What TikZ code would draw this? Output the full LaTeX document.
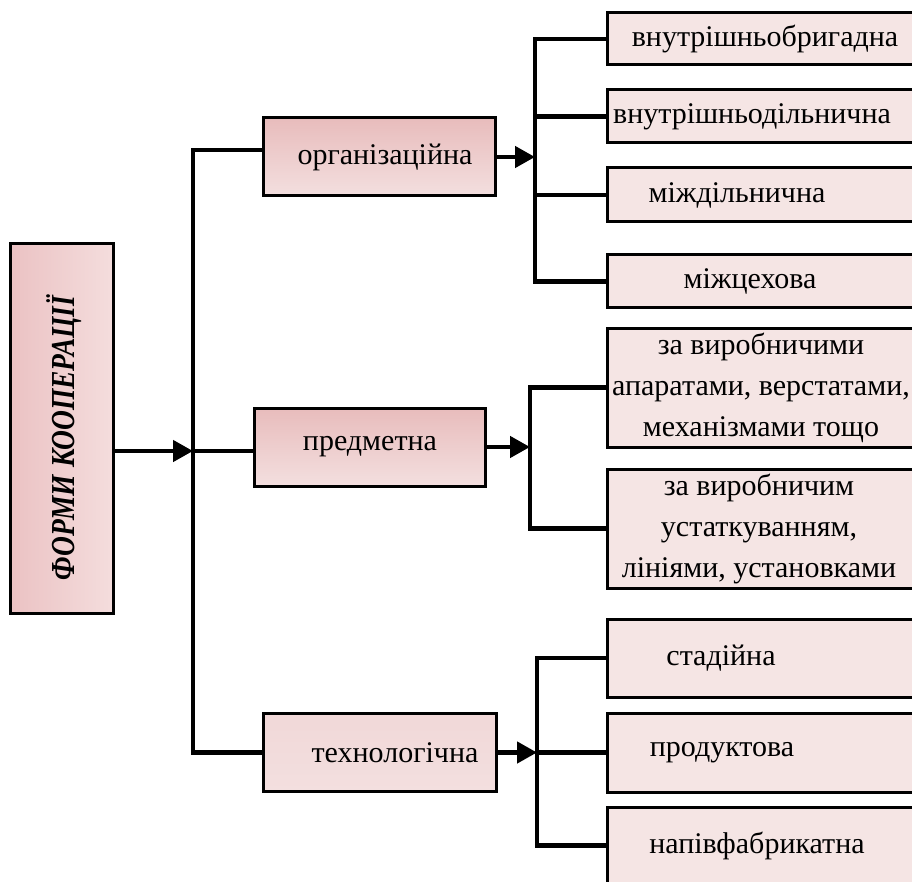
\documentclass[tikz,border=0pt]{standalone}
\usepackage{fontspec}
\setmainfont{Liberation Serif}
\usetikzlibrary{arrows.meta}
\definecolor{rfill}{HTML}{F5E5E4}
\definecolor{midtop}{HTML}{E8BCBC}
\definecolor{midbot}{HTML}{F3DFDF}
\definecolor{leftl}{HTML}{EBC2C3}
\definecolor{leftr}{HTML}{F4DDDD}
\tikzset{
  boxline/.style={draw=black, line width=3pt, inner sep=0pt},
  mainbox/.style={boxline, left color=leftl, right color=leftr, minimum width=103pt, minimum height=369pt},
  midbox/.style={boxline, top color=midtop, bottom color=midbot, minimum height=78pt},
  rbox/.style={boxline, fill=rfill, minimum width=353pt},
  conn/.style={line width=4.5pt, line cap=rect},
  arr/.style={line width=4.5pt, -{Triangle[length=20pt,width=21pt]}},
  txt/.style={font=\fontsize{30}{41}\selectfont, inner sep=0pt, align=center},
}
\begin{document}
\begin{tikzpicture}[x=1pt,y=-1pt]
\useasboundingbox (0,0) rectangle (912,882);
\clip (0,0) rectangle (912,882);

% main box
\node[mainbox] (L) at (61.5,428.5) {};
\node[rotate=90, inner sep=0pt, font=\fontsize{27.5}{30}\selectfont\bfseries\itshape] (Lt) at (64,438) {\scalebox{1}[1.22]{ФОРМИ КООПЕРАЦІЇ}};

% middle boxes
\node[midbox, minimum width=232pt] (org) at (379,157) {};
\node[midbox, minimum width=231pt] (pred) at (369.5,447) {};
\node[midbox, minimum width=233pt, top color=midbot!80!midtop, bottom color=midbot] (tech) at (379.5,752.5) {};
\node[txt] (orgt) at (385,157) {організаційна};
\node[txt] (predt) at (370,447) {предметна};
\node[txt] (techt) at (395,752.5) {технологічна};

% right boxes
\node[rbox, minimum height=52pt] (r1) at (783.5,39) {};
\node[rbox, minimum height=53pt] (r2) at (783.5,116.5) {};
\node[rbox, minimum height=54pt] (r3) at (783.5,195) {};
\node[rbox, minimum height=53pt] (r4) at (783.5,281.5) {};
\node[rbox, minimum height=119pt] (r5) at (783.5,387.5) {};
\node[rbox, minimum height=119pt] (r6) at (783.5,528.5) {};
\node[rbox, minimum height=78pt] (r7) at (783.5,658) {};
\node[rbox, minimum height=79pt] (r8) at (783.5,752.5) {};
\node[rbox, minimum height=77pt] (r9) at (783.5,845.5) {};

\node[txt] (t1) at (765,39) {внутрішньобригадна};
\node[txt] (t2) at (752,116.5) {внутрішньодільнична};
\node[txt] (t3) at (737,195) {міждільнична};
\node[txt] (t4) at (750,281.5) {міжцехова};
\node[txt] (t5) at (761,387.5) {за виробничими\\апаратами, верстатами,\\механізмами тощо};
\node[txt] (t6) at (759,528.5) {за виробничим\\устаткуванням,\\лініями, установками};
\node[txt] (t7) at (721,658) {стадійна};
\node[txt] (t8) at (722,752.5) {продуктова};
\node[txt] (t9) at (757,845.5) {напівфабрикатна};

% junction coordinates
\coordinate (jL) at (193,451);
\coordinate (sTop) at (193,150);
\coordinate (sBot) at (193,752.5);
\coordinate (b1) at (535,157);
\coordinate (b2) at (530,447);
\coordinate (b3) at (537,752.5);

% spine
\draw[arr] (L.east |- jL) -- (jL);
\draw[conn] (org.west |- sTop) -- (sTop) -- (sBot) -- (tech.west |- sBot);
\draw[conn] (jL) -- (pred.west |- jL);

% organisational branch
\draw[arr] (org.east) -- (b1);
\draw[conn] (r1.west) -- (r1.west -| b1) -- (r4.west -| b1) -- (r4.west);
\draw[conn] (r2.west -| b1) -- (r2.west);
\draw[conn] (r3.west -| b1) -- (r3.west);

% subject branch
\draw[arr] (pred.east) -- (b2);
\draw[conn] (r5.west) -- (r5.west -| b2) -- (r6.west -| b2) -- (r6.west);

% technological branch
\draw[arr] (tech.east) -- (b3);
\draw[conn] (r7.west) -- (r7.west -| b3) -- (r9.west -| b3) -- (r9.west);
\draw[conn] (r8.west -| b3) -- (r8.west);
\end{tikzpicture}
\end{document}
